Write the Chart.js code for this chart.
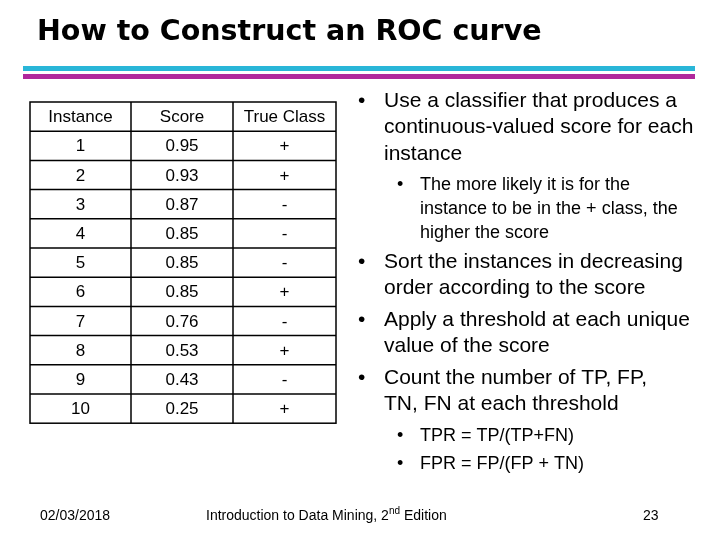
<!DOCTYPE html>
<html><head><meta charset="utf-8">
<script src="https://cdn.jsdelivr.net/npm/chart.js@4"></script>
<style>html,body{margin:0;padding:0;background:#fff}#c{display:block}</style>
</head><body>
<div style="width:720px;height:540px"><canvas id="c"></canvas></div>
<script>
const headers = ["Instance", "Score", "True Class"];
const instances = ["1","2","3","4","5","6","7","8","9","10"];
const scores = ["0.95","0.93","0.87","0.85","0.85","0.85","0.76","0.53","0.43","0.25"];
const classes = ["+","+","-","-","-","+","-","+","-","+"];
const title = "How to Construct an ROC curve";
const bullets = [
  {lvl:0, lines:["Use a classifier that produces a","continuous-valued score for each","instance"], y:101},
  {lvl:1, lines:["The more likely it is for the","instance to be in the + class, the","higher the score"], y:185},
  {lvl:0, lines:["Sort the instances in decreasing","order according to the score"], y:262},
  {lvl:0, lines:["Apply a threshold at each unique","value of the score"], y:320},
  {lvl:0, lines:["Count the number of TP, FP,","TN, FN at each threshold"], y:378},
  {lvl:1, lines:["TPR = TP/(TP+FN)"], y:436},
  {lvl:1, lines:["FPR = FP/(FP + TN)"], y:464}
];
const footerDate = "02/03/2018";
const pageNum = "23";

const slide = {
  id:'slide',
  afterDraw(chart){
    const c = chart.ctx, X = chart.scales.x, Y = chart.scales.y;
    const px = v=>X.getPixelForValue(v), py = v=>Y.getPixelForValue(v);
    c.save();
    c.fillStyle='#000'; c.textBaseline='middle';
    c.font='bold 28.5px "DejaVu Sans"'; c.textAlign='left';
    c.fillText(title, px(37), py(33));
    c.fillStyle='#29b6d8'; c.fillRect(px(23),py(66),px(695)-px(23),5);
    c.fillStyle='#b0289c'; c.fillRect(px(23),py(74),px(695)-px(23),5);
    const colX=[30,131,233,336], top=102, rh=29.2, n=instances.length;
    const bottom = top+rh*(n+1);
    c.strokeStyle='#000'; c.lineWidth=1.5;
    c.strokeRect(px(colX[0]),py(top),px(colX[3])-px(colX[0]),py(bottom)-py(top));
    for(let i=1;i<3;i++){c.beginPath();c.moveTo(px(colX[i]),py(top));c.lineTo(px(colX[i]),py(bottom));c.stroke();}
    for(let r=1;r<=n;r++){c.beginPath();c.moveTo(px(colX[0]),py(top+rh*r));c.lineTo(px(colX[3]),py(top+rh*r));c.stroke();}
    c.fillStyle='#000'; c.textAlign='center'; c.font='17px "Liberation Sans"';
    const rows=[headers, ...instances.map((v,i)=>[v,scores[i],classes[i]])];
    rows.forEach((row,r)=>row.forEach((t,k)=>{
      c.fillText(t, px((colX[k]+colX[k+1])/2), py(top+rh*r+rh/2+1));
    }));
    c.textAlign='left';
    bullets.forEach(b=>{
      const fs = b.lvl? 18:21, lh = b.lvl? 24:26.5, bx = b.lvl?397:358, tx=b.lvl?420:384;
      c.font=fs+'px "Liberation Sans"';
      c.fillText('•', px(bx), py(b.y));
      b.lines.forEach((l,i)=>c.fillText(l, px(tx), py(b.y+i*lh)));
    });
    c.font='14px "Liberation Sans"';
    c.fillText(footerDate, px(40), py(516));
    c.fillText(pageNum, px(643), py(516));
    const a="Introduction to Data Mining, 2", s="nd", e=" Edition";
    let x=px(206); c.fillText(a,x,py(516)); x+=c.measureText(a).width;
    c.font='10px "Liberation Sans"'; c.fillText(s,x,py(511)); x+=c.measureText(s).width;
    c.font='14px "Liberation Sans"'; c.fillText(e,x,py(516));
    c.restore();
  }
};
new Chart(document.getElementById('c'),{
  type:'scatter',
  data:{datasets:[{data:[],showLine:false}]},
  options:{responsive:true,maintainAspectRatio:false,animation:false,
    layout:{padding:0},
    plugins:{legend:{display:false},tooltip:{enabled:false}},
    scales:{x:{type:'linear',min:0,max:720,display:false},
            y:{type:'linear',min:0,max:540,reverse:true,display:false}}},
  plugins:[slide]
});
</script>
</body></html>
